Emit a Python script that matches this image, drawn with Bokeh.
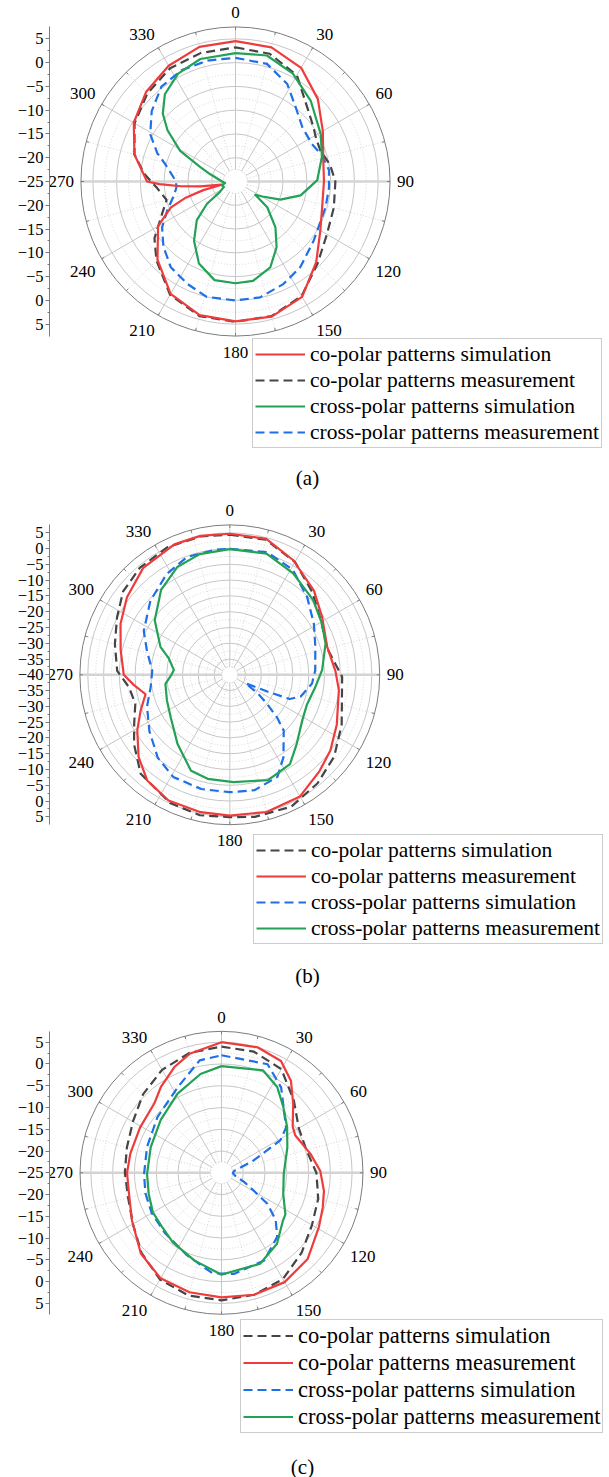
import numpy as np
from bokeh.plotting import figure
from bokeh.models import Range1d, FixedTicker, Legend, LegendItem
from bokeh.layouts import column
from bokeh.embed import file_html
from bokeh.resources import INLINE
from bokeh.core.properties import value

FONT = "Liberation Serif, Times New Roman, serif"
ANGLE_TICKS = list(range(0, 360, 30))
ANGLE_LABELS = [str(a) for a in ANGLE_TICKS]
LEGEND_LABELS = ["co-polar patterns simulation", "co-polar patterns measurement",
                 "cross-polar patterns simulation", "cross-polar patterns measurement"]

# ---------------- chart (a) : radial axis -25 .. 5 dB ----------------
A_RMIN = -25
A_RTOP = 5
A_CO_SIM_DEG = [0, 15, 30, 45, 60, 75, 90, 105, 120, 135, 150, 165, 180, 195, 210, 225, 240,
                248, 252, 255, 257, 262, 265, 268, 270, 285, 300, 315, 330, 345]
A_CO_SIM_DB = [4.5, 4.2, 2.6, -0.5, -3.8, -5.9, -6.4, -6.1, -4.4, -1.0, 3.0, 4.4, 4.4, 4.1, 2.3, -1.8, -6.2,
               -10.3, -14.0, -18.0, -22.0, -17.5, -13.5, -9.0, -6.4, -3.0, -0.3, 1.6, 3.1, 4.3]
A_CO_MEAS_DEG = [0, 15, 30, 45, 55, 62, 70, 80, 90, 105, 120, 135, 150, 165, 180, 195, 210, 225,
                 235, 245, 255, 265, 275, 285, 300, 315, 330, 345]
A_CO_MEAS_DB = [3.2, 2.8, 0.8, -3.5, -5.0, -5.8, -6.0, -4.8, -4.0, -3.6, -2.8, -0.6, 2.8, 4.3, 4.5, 4.3, 2.5, -1.5,
                -4.2, -7.8, -10.0, -8.5, -5.7, -3.0, -0.5, 1.2, 2.5, 3.0]
A_X_SIM_DEG = [0, 14, 28, 43, 61, 74, 89, 102, 112, 119, 124, 129, 139, 148, 158, 170, 180,
               192, 204, 215, 225, 232, 236, 245, 255, 262, 270, 280, 286, 292, 299, 307, 313, 321, 332, 344]
A_X_SIM_DB = [2.0, 2.3, 0.7, -1.8, -4.5, -6.1, -7.8, -11.0, -14.8, -18.5, -20.0, -16.4, -12.2, -8.7, -5.5, -3.8, -3.6,
              -3.8, -6.1, -9.8, -13.5, -17.4, -21.0, -22.3, -22.0, -22.8, -22.2, -21.0, -19.5, -17.1, -11.7, -7.1,
              -4.1, -1.4, 0.7, 1.8]
A_X_MEAS_DEG = [0, 15, 28, 39, 51, 64, 73, 83, 94, 106, 127, 143, 155, 168, 180, 194, 205, 217, 228, 238,
                247, 256, 264, 270, 282, 290, 299, 310, 322, 334, 347]
A_X_MEAS_DB = [1.0, 0.6, -1.8, -4.9, -6.9, -7.1, -6.0, -5.2, -5.3, -5.3, -4.4, -2.4, -1.2, -0.1, 0.0, 0.0, -1.2,
               -2.4, -4.6, -6.8, -9.4, -11.5, -12.5, -12.5, -10.3, -7.5, -4.5, -2.0, 0.3, 1.0, 1.1]

# ---------------- chart (b) : radial axis -40 .. 5 dB ----------------
B_RMIN = -40
B_RTOP = 5
B_CO_SIM_DEG = [0, 15, 30, 45, 60, 75, 91, 114, 128, 141, 155, 170, 180, 192, 205, 222, 234, 243, 253, 263,
                272, 285, 297, 308, 320, 334, 348]
B_CO_SIM_DB = [4.4, 4.3, 1.3, -3.0, -6.5, -8.0, -4.4, -1.2, 2.0, 4.2, 6.1, 5.7, 5.1, 5.5, 4.8, 2.2, -2.5, -6.0,
               -8.7, -7.8, -4.3, -2.3, 0.1, 2.9, 4.3, 5.0, 4.8]
B_CO_MEAS_DEG = [0, 15, 29, 45, 58, 74, 88, 98, 115, 127, 137, 150, 165, 180, 192, 206, 218, 228, 239, 248,
                 257, 264, 270, 283, 295, 307, 321, 337, 348]
B_CO_MEAS_DB = [4.7, 4.6, 1.5, -2.3, -5.5, -7.9, -6.5, -5.1, -2.6, -0.1, 1.7, 4.5, 5.0, 4.6, 4.5, 4.3, 2.5,
                -1.1, -5.8, -9.5, -12.6, -9.4, -6.4, -4.5, -1.8, 0.8, 3.6, 4.9, 5.0]
B_X_SIM_DEG = [0, 17, 31, 45, 59, 72, 87, 96, 107, 112, 114, 118, 124, 128, 132, 136, 147, 155, 168, 180,
               194, 209, 221, 235, 249, 261, 273, 286, 297, 313, 328, 340, 353]
B_X_SIM_DB = [-0.1, 0.6, -1.2, -5.3, -8.9, -11.5, -12.9, -13.8, -16.5, -19.5, -27.0, -34.4, -29.0, -25.0, -19.9,
              -15.4, -8.8, -4.3, -2.6, -2.8, -2.7, -3.0, -5.2, -8.9, -11.9, -14.6, -15.4, -12.7, -9.4, -5.6,
              -2.3, -0.3, -0.1]
B_X_MEAS_DEG = [0, 17, 32, 48, 61, 72, 87, 98, 111, 122, 136, 146, 160, 178, 192, 202, 217, 234, 248, 262,
                270, 275, 285, 292, 306, 321, 334, 346]
B_X_MEAS_DB = [-0.2, 0.1, -2.1, -4.5, -6.6, -8.1, -10.7, -12.6, -13.8, -12.9, -9.5, -5.9, -4.5, -6.0, -6.3,
               -7.2, -12.5, -16.9, -18.5, -19.4, -21.5, -22.2, -20.0, -16.3, -10.6, -5.4, -2.0, -0.6]

# ---------------- chart (c) : radial axis -25 .. 5 dB ----------------
C_RMIN = -25
C_RTOP = 5
C_CO_SIM_DEG = [0, 15, 30, 45, 60, 75, 90, 105, 120, 135, 150, 165, 180, 195, 210, 225, 240, 255, 270, 285,
                300, 315, 330, 345]
C_CO_SIM_DB = [4.0, 3.8, 2.5, -1.5, -4.5, -4.8, -3.2, -2.0, -1.0, 1.0, 3.2, 4.0, 4.3, 4.2, 3.3, 1.0, -1.5,
               -2.8, -2.8, -2.5, -1.5, 0.5, 2.3, 3.5]
C_CO_MEAS_DEG = [0, 16, 28, 37, 46, 57, 63, 78, 89, 100, 109, 119, 135, 150, 165, 180, 195, 210, 225, 242,
                 257, 270, 282, 299, 316, 325, 336, 345]
C_CO_MEAS_DB = [5.0, 5.0, 4.1, 1.5, -2.1, -5.5, -6.0, -4.1, -2.3, -1.1, -0.4, 0.6, 3.0, 4.0, 4.0, 3.6, 3.4,
                3.0, 1.2, -1.7, -3.2, -3.3, -3.6, -3.6, -2.8, -0.8, 1.6, 3.3]
C_X_SIM_DEG = [0, 23, 35, 45, 55, 61, 69, 82, 92, 105, 112, 119, 124, 131, 139, 154, 173, 185, 203, 223,
               240, 255, 269, 289, 311, 333, 349]
C_X_SIM_DB = [2.0, 2.1, -1.1, -4.7, -6.9, -9.5, -17.1, -22.1, -22.4, -21.5, -19.4, -16.5, -12.3, -8.5, -5.5,
              -2.6, -1.6, -1.8, -4.5, -6.0, -6.5, -6.9, -7.2, -6.9, -5.5, -2.9, 1.3]
C_X_MEAS_DEG = [0, 22, 33, 43, 55, 69, 91, 109, 123, 128, 142, 157, 180, 197, 215, 227, 240, 254, 269, 290,
                311, 331, 348]
C_X_MEAS_DB = [-0.5, 0.4, -1.5, -4.2, -6.6, -8.8, -10.7, -10.0, -7.5, -7.1, -4.3, -2.3, -1.6, -3.9, -5.5,
               -6.5, -6.8, -7.6, -7.9, -7.7, -6.5, -4.2, -1.8]

# ---------------- styles & layout ----------------
RED = dict(color="#ee3b3b", dash="solid")
DARK = dict(color="#454545", dash="9 5")
GREEN = dict(color="#23a156", dash="solid")
BLUE = dict(color="#1f6fe6", dash="9 5")

PAGE_W = 609
FRAME_L = 49.0
GEO_A = dict(top=0, h=490, cx=235.0, cy=181.0, k=4.756, leg=(203, 42), leg_font="21.5px", row=26,
             cap=(307, 477), cap_font="21px")
GEO_B = dict(top=490, h=502, cx=229.3, cy=674.3, k=3.156, leg=(204, 48), leg_font="21.5px", row=26,
             cap=(307, 975), cap_font="21px")
GEO_C = dict(top=992, h=485, cx=221.0, cy=1172.3, k=4.353, leg=(191, 44), leg_font="22.5px", row=27,
             cap=(302, 1466), cap_font="21px")


def to_xy(deg, db, rmin):
    a = np.radians(np.asarray(deg, dtype=float))
    r = np.clip(np.asarray(db, dtype=float) - rmin, 0.0, None)
    x = r * np.sin(a)
    y = r * np.cos(a)
    return np.append(x, x[:1]).tolist(), np.append(y, y[:1]).tolist()


def fmt(v):
    v = int(round(v))
    return ("\u2212" + str(-v)) if v < 0 else str(v)


def seg(degs, r0, r1):
    a = np.radians(np.asarray(degs, dtype=float))
    return dict(x0=(r0 * np.sin(a)).tolist(), y0=(r0 * np.cos(a)).tolist(),
                x1=(r1 * np.sin(a)).tolist(), y1=(r1 * np.cos(a)).tolist())


def build(geo, rmin, rtop, series, caption):
    cx, cy, k = geo["cx"], geo["cy"], geo["k"]
    top, h = geo["top"], geo["h"]
    p = figure(width=PAGE_W, height=h, output_backend="svg", toolbar_location=None,
               x_axis_location=None, y_axis_location="left",
               x_range=Range1d((FRAME_L - cx) / k, (PAGE_W - cx) / k),
               y_range=Range1d((cy - (top + h)) / k, (cy - top) / k),
               min_border_left=int(FRAME_L), min_border_right=0, min_border_top=0, min_border_bottom=0)
    p.outline_line_color = None
    p.grid.visible = False
    p.background_fill_color = "white"
    p.border_fill_color = "white"

    span = rtop - rmin
    outer = span + 2.5
    r_in = 2.5
    major = [float(v) for v in range(5, span + 1, 5)]
    minor = [v + 2.5 for v in range(0, span, 5)]

    # grid
    p.circle(x=[0] * len(minor), y=[0] * len(minor), radius=minor, fill_color=None,
             line_color="#d6d6d6", line_width=1, line_dash="1 2")
    p.segment(**seg(list(range(15, 360, 30)), r_in, outer), line_color="#d6d6d6", line_width=1, line_dash="1 2")
    p.circle(x=[0] * len(major), y=[0] * len(major), radius=major, fill_color=None,
             line_color="#c6c6c6", line_width=1)
    p.segment(**seg([0, 30, 60, 120, 150, 180, 210, 240, 300, 330], r_in, outer), line_color="#c6c6c6", line_width=1)
    p.segment(**seg([90, 270], r_in, outer), line_color="#d4d4d4", line_width=2.5)
    p.circle(x=[0], y=[0], radius=[outer], fill_color=None, line_color="#7c7c7c", line_width=1)
    p.segment(**seg(list(range(0, 360, 15)), outer - 3.0 / k, outer), line_color="#7c7c7c", line_width=1)

    # angle labels (middle baseline, shifted up/down by a few pixels)
    for deg, lab in zip(ANGLE_TICKS, ANGLE_LABELS):
        a = np.radians(deg)
        s, c = np.sin(a), np.cos(a)
        align = "center" if abs(s) < 0.2 else ("left" if s > 0 else "right")
        if c > 0.2:
            dy = 7.0
        elif c < -0.2:
            dy = -9.0
        else:
            dy = 0.0
        rr = outer + 7.0 / k
        p.text(x=[rr * s], y=[rr * c + dy / k], text=[lab], text_align=align, text_baseline="middle",
               text_font=value(FONT), text_font_size="17px", text_color="black")

    # curves
    rends = {}
    order = sorted(range(len(series)), key=lambda i: 0 if series[i][3]["dash"] != "solid" else 1)
    for i in order:
        lab, deg, db, sty = series[i]
        x, y = to_xy(deg, db, rmin)
        rends[i] = p.line(x, y, line_color=sty["color"], line_width=2.2, line_dash=sty["dash"],
                          line_join="round")

    # radial axis
    ax = p.yaxis[0]
    ax.bounds = (-outer, outer)
    ticks = list(range(-span, span + 1, 5))
    ax.ticker = FixedTicker(ticks=ticks, minor_ticks=[t + 2.5 for t in range(-span, span, 5)])
    ax.major_label_overrides = {t: fmt(rmin + abs(t)) for t in ticks}
    ax.axis_line_color = "#7c7c7c"
    ax.major_tick_line_color = "#7c7c7c"
    ax.minor_tick_line_color = "#7c7c7c"
    ax.major_tick_out = 4
    ax.major_tick_in = 0
    ax.minor_tick_out = 2
    ax.minor_tick_in = 0
    ax.major_label_standoff = 2
    ax.major_label_text_font = FONT
    ax.major_label_text_font_size = "16.5px"
    ax.major_label_text_color = "black"

    # legend
    items = [LegendItem(label=series[i][0], renderers=[rends[i]]) for i in range(len(series))]
    leg = Legend(items=items, location=geo["leg"], orientation="vertical",
                 label_text_font=FONT, label_text_font_size=geo["leg_font"], label_text_color="black",
                 glyph_width=50, glyph_height=geo["row"], label_height=geo["row"], label_standoff=5,
                 padding=2, spacing=0, margin=0, border_line_color="#9a9a9a", border_line_width=1,
                 background_fill_color="white", background_fill_alpha=1.0)
    p.add_layout(leg)

    # caption
    capx, capy = geo["cap"]
    p.text(x=[(capx - cx) / k], y=[(cy - capy) / k], text=[caption], text_align="center",
           text_baseline="middle", text_font=value(FONT), text_font_size=geo["cap_font"], text_color="black")
    return p


pa = build(GEO_A, A_RMIN, A_RTOP, [
    (LEGEND_LABELS[0], A_CO_SIM_DEG, A_CO_SIM_DB, RED),
    (LEGEND_LABELS[1], A_CO_MEAS_DEG, A_CO_MEAS_DB, DARK),
    (LEGEND_LABELS[2], A_X_SIM_DEG, A_X_SIM_DB, GREEN),
    (LEGEND_LABELS[3], A_X_MEAS_DEG, A_X_MEAS_DB, BLUE)], "(a)")
pb = build(GEO_B, B_RMIN, B_RTOP, [
    (LEGEND_LABELS[0], B_CO_SIM_DEG, B_CO_SIM_DB, DARK),
    (LEGEND_LABELS[1], B_CO_MEAS_DEG, B_CO_MEAS_DB, RED),
    (LEGEND_LABELS[2], B_X_SIM_DEG, B_X_SIM_DB, BLUE),
    (LEGEND_LABELS[3], B_X_MEAS_DEG, B_X_MEAS_DB, GREEN)], "(b)")
pc = build(GEO_C, C_RMIN, C_RTOP, [
    (LEGEND_LABELS[0], C_CO_SIM_DEG, C_CO_SIM_DB, DARK),
    (LEGEND_LABELS[1], C_CO_MEAS_DEG, C_CO_MEAS_DB, RED),
    (LEGEND_LABELS[2], C_X_SIM_DEG, C_X_SIM_DB, BLUE),
    (LEGEND_LABELS[3], C_X_MEAS_DEG, C_X_MEAS_DB, GREEN)], "(c)")

layout = column(pa, pb, pc, spacing=0)
open("out.html", "w").write(file_html(layout, INLINE))
